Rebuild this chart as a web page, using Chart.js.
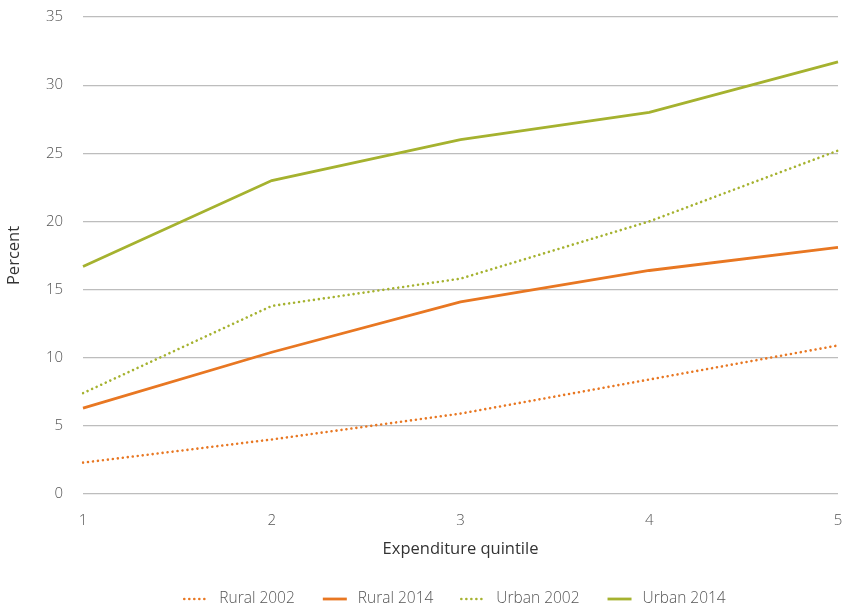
<!DOCTYPE html>
<html>
<head>
<meta charset="utf-8">
<script src="https://cdn.jsdelivr.net/npm/chart.js@4/dist/chart.umd.min.js"></script>
<style>
  html, body { margin: 0; padding: 0; background: #fff; }
  #wrap { width: 844px; height: 611px; }
</style>
</head>
<body>
<div id="wrap"><canvas id="c" width="844" height="611"></canvas></div>
<script>
// Share of households (percent) by expenditure quintile
const quintiles = ['1', '2', '3', '4', '5'];
const rural2002 = [2.3, 4.0, 5.9, 8.4, 10.9];
const rural2014 = [6.3, 10.4, 14.1, 16.4, 18.1];
const urban2002 = [7.4, 13.8, 15.8, 20.0, 25.2];
const urban2014 = [16.7, 23.0, 26.0, 28.0, 31.7];
const yTicks = [0, 5, 10, 15, 20, 25, 30, 35];
const xTitle = 'Expenditure quintile';

const ORANGE = '#E87722';
const GREEN = '#A5B22F';
const FONT = "'Open Sans', 'Noto Sans', sans-serif";
const TEXT = '#555555';
const TITLE = '#333333';
const DOT_DASH = [0.01, 5];

function series(label, data, color, dotted) {
  return {
    label, data,
    borderColor: color,
    backgroundColor: 'transparent',
    borderWidth: dotted ? 2.6 : 2.8,
    borderDash: dotted ? DOT_DASH : [],
    borderCapStyle: dotted ? 'round' : 'butt',
    pointRadius: 0,
    pointHoverRadius: 0,
    tension: 0,
    fill: false
  };
}

// Axis title and legend drawn under the plot
const bottomAnnotations = {
  id: 'bottomAnnotations',
  afterDraw(chart) {
    const ctx = chart.ctx;
    const area = chart.chartArea;
    const cx = (area.left + area.right) / 2;
    ctx.save();
    ctx.textBaseline = 'middle';

    ctx.font = `400 16.5px ${FONT}`;
    ctx.fillStyle = TITLE;
    ctx.textAlign = 'center';
    ctx.fillText(xTitle, cx, area.bottom + 55);

    const sw = 25, gap = 11, itemGap = 27;
    ctx.font = `300 15.5px ${FONT}`;
    const items = chart.data.datasets.map(ds => ({
      ds, w: sw + gap + ctx.measureText(ds.label).width
    }));
    const total = items.reduce((a, it) => a + it.w, 0) + itemGap * (items.length - 1);
    let x = cx - 6 - total / 2;
    const y = area.bottom + 105;
    items.forEach(it => {
      const ds = it.ds;
      ctx.beginPath();
      ctx.strokeStyle = ds.borderColor;
      ctx.lineWidth = ds.borderWidth;
      ctx.lineCap = ds.borderCapStyle;
      ctx.setLineDash(ds.borderDash);
      ctx.moveTo(x + 1, y);
      ctx.lineTo(x + sw, y);
      ctx.stroke();
      ctx.setLineDash([]);
      ctx.fillStyle = TEXT;
      ctx.textAlign = 'left';
      ctx.fillText(ds.label, x + sw + gap, y);
      x += it.w + itemGap;
    });
    ctx.restore();
  }
};

new Chart(document.getElementById('c'), {
  type: 'line',
  data: {
    labels: quintiles,
    datasets: [
      series('Rural 2002', rural2002, ORANGE, true),
      series('Rural 2014', rural2014, ORANGE, false),
      series('Urban 2002', urban2002, GREEN, true),
      series('Urban 2014', urban2014, GREEN, false)
    ]
  },
  plugins: [bottomAnnotations],
  options: {
    responsive: false,
    animation: false,
    layout: { padding: { left: 0, right: 6, top: 17, bottom: 82 } },
    plugins: {
      tooltip: { enabled: false },
      legend: { display: false }
    },
    scales: {
      x: {
        type: 'category',
        offset: false,
        afterFit: (s) => { s.height = 35; s.paddingLeft = 0; s.paddingRight = 0; },
        grid: { display: false, drawTicks: false },
        border: { display: false },
        ticks: { color: TEXT, font: { family: FONT, size: 15, weight: 300 }, padding: 18, maxRotation: 0 }
      },
      y: {
        min: 0,
        max: 35,
        afterBuildTicks: (s) => { s.ticks = yTicks.map(v => ({ value: v })); },
        afterFit: (s) => { s.width = 83; s.paddingTop = 0; s.paddingBottom = 0; },
        grid: { color: '#BDBDBD', lineWidth: 1.2, drawTicks: false },
        border: { display: false },
        ticks: { color: TEXT, font: { family: FONT, size: 15, weight: 300 }, padding: 20 },
        title: {
          display: true,
          text: 'Percent',
          color: TITLE,
          font: { family: FONT, size: 16.5, weight: 400 },
          padding: { top: 4, bottom: 0 }
        }
      }
    }
  }
});
</script>
</body>
</html>
